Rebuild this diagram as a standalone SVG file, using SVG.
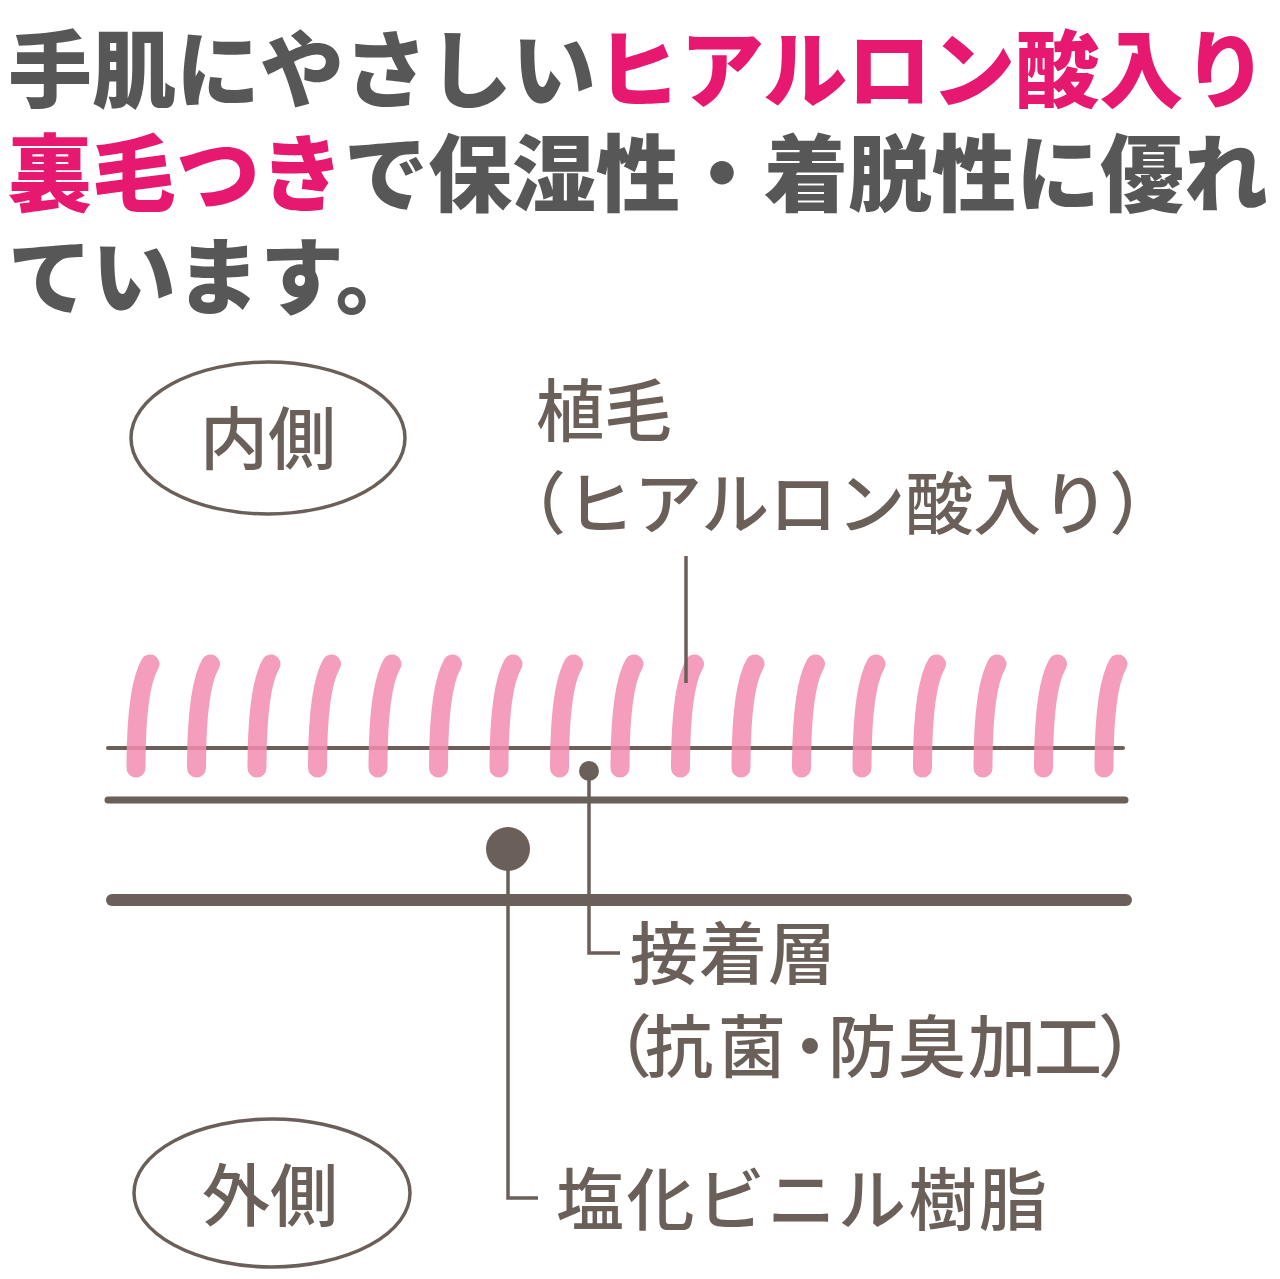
<svg xmlns="http://www.w3.org/2000/svg" xmlns:xlink="http://www.w3.org/1999/xlink" width="1280" height="1279" viewBox="0 0 1280 1279">
<style>
.hd{font-family:"Noto Sans CJK JP","Noto Sans CJK SC",sans-serif;font-weight:900;font-size:84px;fill:#575757}
.pk{fill:#e6186f}
.lb{font-family:"Noto Sans CJK JP","Noto Sans CJK SC",sans-serif;font-weight:500;font-size:68px;fill:#6b5f59}
.ell{fill:none;stroke:#6b5f59;stroke-width:3.5}
.ln{stroke:#6b5f59;stroke-linecap:round;fill:none}
.con{stroke:#6b5f59;stroke-width:3.5;fill:none}
.hair{fill:none;stroke:#f28cb1;stroke-width:19;stroke-linecap:round;opacity:0.85}
</style>
<defs>
<path id="hair" class="hair" d="M14,664 Q0,688 0,768"/>
</defs>
<rect width="1280" height="1279" fill="#ffffff"/>
<g id="heading">
<text class="hd" x="8" y="101">手肌にやさしい<tspan class="pk">ヒアルロン酸入り</tspan></text>
<text class="hd" x="8" y="205"><tspan class="pk">裏毛つき</tspan>で保湿性・着脱性に優れ</text>
<text class="hd" x="8" y="308">ています。</text>
</g>
<g id="inner">
<ellipse class="ell" cx="268" cy="438" rx="137" ry="76"/>
<text class="lb" x="268" y="464" text-anchor="middle">内側</text>
</g>
<g id="outer">
<ellipse class="ell" cx="272" cy="1193" rx="138" ry="74"/>
<text class="lb" x="270" y="1221" text-anchor="middle">外側</text>
</g>
<g id="layer-base">
<line class="ln" x1="108" y1="748" x2="1123" y2="748" stroke-width="4"/>
<line class="ln" x1="108" y1="800" x2="1125" y2="800" stroke-width="7"/>
<line class="ln" x1="112" y1="900" x2="1126" y2="900" stroke-width="12"/>
</g>
<g id="pile">
<use href="#hair" x="136"/>
<use href="#hair" x="196.5"/>
<use href="#hair" x="257"/>
<use href="#hair" x="317.5"/>
<use href="#hair" x="378"/>
<use href="#hair" x="438.5"/>
<use href="#hair" x="499"/>
<use href="#hair" x="559.5"/>
<use href="#hair" x="620"/>
<use href="#hair" x="680.5"/>
<use href="#hair" x="741"/>
<use href="#hair" x="801.5"/>
<use href="#hair" x="862"/>
<use href="#hair" x="922.5"/>
<use href="#hair" x="983"/>
<use href="#hair" x="1043.5"/>
<use href="#hair" x="1104"/>
</g>
<g id="pile-label">
<text class="lb" x="536" y="436">植毛</text>
<text class="lb" x="498" y="529">（ヒアルロン酸入り）</text>
</g>
<g id="adhesive-label">
<text class="lb" x="630" y="979" letter-spacing="1">接着層</text>
<text class="lb" x="584 645 718 776 828 898 968 1034 1098" y="1072">（抗菌・防臭加工）</text>
</g>
<g id="pvc-label">
<text class="lb" x="556" y="1225" letter-spacing="2.5">塩化ビニル樹脂</text>
</g>
<g id="connectors">
<line class="con" x1="686" y1="556" x2="686" y2="683"/>
<circle cx="589" cy="771" r="10" fill="#6b5f59"/>
<polyline class="con" points="589,771 589,953 620,953"/>
<circle cx="508" cy="849" r="22" fill="#6b5f59"/>
<polyline class="con" points="508,849 508,1198 538,1198"/>
</g>
</svg>
